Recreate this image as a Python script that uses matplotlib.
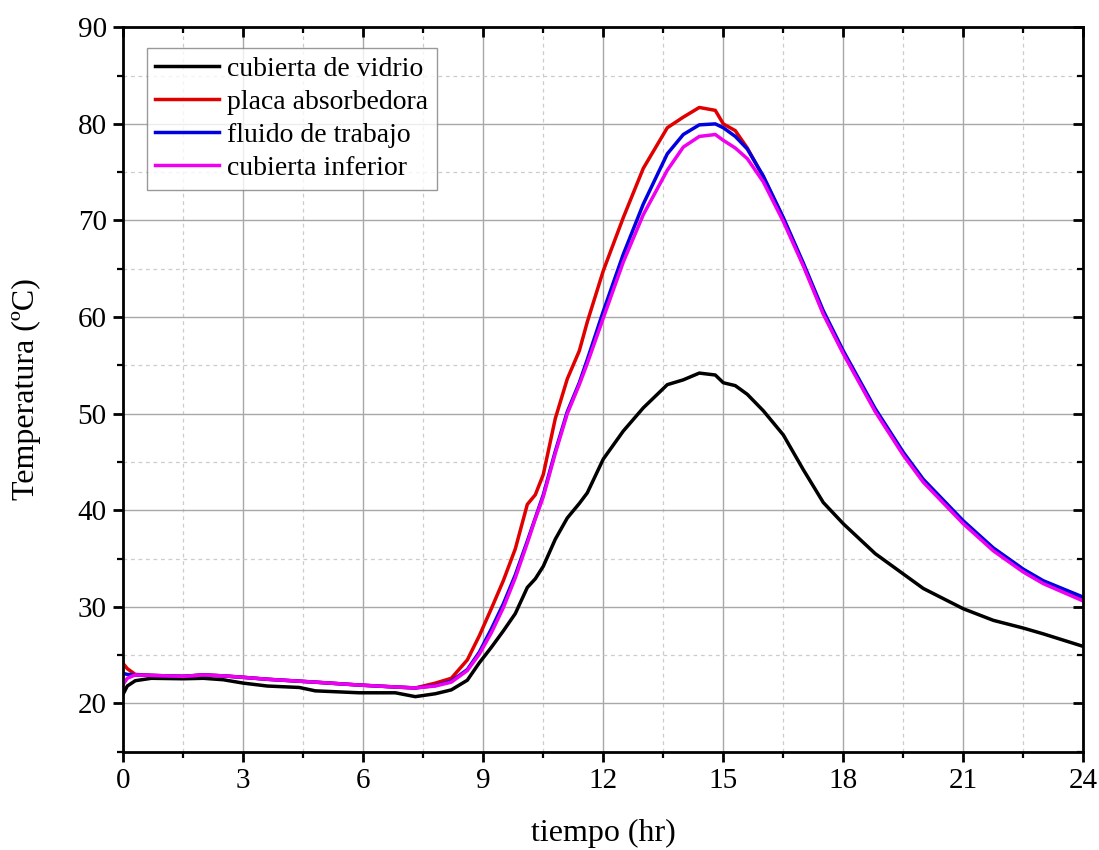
import matplotlib
matplotlib.use("Agg")
import matplotlib.pyplot as plt
from matplotlib.ticker import MultipleLocator

plt.rcParams['font.family'] = ['Liberation Serif', 'DejaVu Serif']

tiempo = [0, 0.1, 0.3, 0.7, 1.5, 2.0, 2.5, 3.0, 3.6, 4.4, 4.8, 5.9, 6.8, 7.3, 7.8,
          8.2, 8.6, 8.9, 9.2, 9.5, 9.8, 10.1, 10.3, 10.5, 10.8, 11.1, 11.4, 11.6,
          12.0, 12.5, 13.0, 13.6, 14.0, 14.4, 14.8, 15.0, 15.3, 15.6, 16.0, 16.5,
          17.0, 17.5, 18.0, 18.8, 19.5, 20.0, 21.0, 21.75, 22.5, 23.0, 24.0]

cubierta_vidrio = [21.0, 21.8, 22.35, 22.6, 22.55, 22.6, 22.45, 22.1, 21.8, 21.65,
                   21.3, 21.1, 21.1, 20.7, 21.0, 21.4, 22.4, 24.2, 25.8, 27.5, 29.3,
                   32.0, 32.9, 34.2, 37.0, 39.2, 40.7, 41.8, 45.3, 48.2, 50.6, 53.0,
                   53.5, 54.2, 54.0, 53.2, 52.9, 52.0, 50.3, 47.8, 44.2, 40.8, 38.6,
                   35.5, 33.4, 31.9, 29.8, 28.6, 27.8, 27.2, 25.9]

placa_absorbedora = [24.1, 23.6, 23.0, 22.9, 22.8, 22.95, 22.85, 22.7, 22.5, 22.3,
                     22.2, 21.9, 21.7, 21.6, 22.1, 22.6, 24.5, 27.0, 29.8, 32.7, 36.0,
                     40.6, 41.6, 43.7, 49.5, 53.6, 56.5, 59.5, 64.8, 70.3, 75.4, 79.6,
                     80.7, 81.7, 81.4, 80.0, 79.3, 77.5, 74.5, 70.2, 65.4, 60.4, 56.3,
                     50.3, 45.8, 43.0, 38.7, 35.9, 33.7, 32.5, 30.8]

fluido_trabajo = [23.1, 23.0, 22.95, 22.9, 22.8, 22.95, 22.85, 22.7, 22.5, 22.3,
                  22.2, 21.9, 21.7, 21.6, 21.85, 22.3, 23.5, 25.3, 27.7, 30.3, 33.3,
                  36.8, 39.2, 41.6, 46.1, 50.2, 53.2, 55.6, 60.6, 66.5, 71.7, 76.9,
                  78.9, 79.9, 80.0, 79.6, 78.7, 77.4, 74.6, 70.3, 65.6, 60.65, 56.5,
                  50.5, 46.0, 43.2, 38.9, 36.1, 33.9, 32.7, 31.0]

cubierta_inferior = [22.0, 22.6, 22.95, 22.9, 22.8, 22.95, 22.85, 22.7, 22.5, 22.3,
                     22.2, 21.9, 21.7, 21.6, 21.8, 22.2, 23.4, 25.1, 27.3, 29.9, 33.0,
                     36.6, 39.1, 41.4, 45.9, 50.0, 53.0, 55.2, 59.9, 65.7, 70.6, 75.2,
                     77.6, 78.7, 78.9, 78.3, 77.5, 76.4, 74.0, 69.9, 65.3, 60.3, 56.2,
                     50.2, 45.7, 42.9, 38.6, 35.8, 33.6, 32.4, 30.6]

etiquetas = ["cubierta de vidrio", "placa absorbedora", "fluido de trabajo", "cubierta inferior"]
colores = ["#000000", "#e00000", "#0000e0", "#f000f0"]

rect = [123.3 / 1099, 1 - 751.7 / 850, 960 / 1099, 724.4 / 850]
fig = plt.figure(figsize=(10.99, 8.5), dpi=100)
ax = fig.add_axes(rect)

series = [cubierta_vidrio, placa_absorbedora, fluido_trabajo, cubierta_inferior]
for s, lab, c in zip(series, etiquetas, colores):
    ax.plot(tiempo, s, color=c, lw=2.5, label=lab, solid_joinstyle='round')

ax.set_xlim(0, 24)
ax.set_ylim(15, 90)
ax.xaxis.set_major_locator(MultipleLocator(3))
ax.xaxis.set_minor_locator(MultipleLocator(1.5))
ax.set_yticks([20, 30, 40, 50, 60, 70, 80, 90])
ax.yaxis.set_minor_locator(MultipleLocator(5))

ax.grid(which='major', color='#a8a8a8', lw=1.0, ls='-')
ax.grid(which='minor', color='#cccccc', lw=0.9, ls=(0, (3, 3)))
ax.set_axisbelow(True)

for sp in ax.spines.values():
    sp.set_linewidth(2.0)

ax.tick_params(which='major', direction='out', length=7, width=2.0, labelsize=21, pad=5)
ax.tick_params(which='minor', direction='out', length=4, width=1.6)

# overlay axes for inward ticks on top and right
ov = fig.add_axes(rect, frameon=False)
ov.patch.set_visible(False)
ov.set_xlim(0, 24)
ov.set_ylim(15, 90)
ov.xaxis.set_major_locator(MultipleLocator(3))
ov.xaxis.set_minor_locator(MultipleLocator(1.5))
ov.yaxis.set_major_locator(MultipleLocator(10))
ov.yaxis.set_minor_locator(MultipleLocator(5))
ov.tick_params(which='both', direction='in', bottom=False, left=False, top=True, right=True,
               labelbottom=False, labelleft=False, labeltop=False, labelright=False)
ov.tick_params(which='major', length=7, width=2.0)
ov.tick_params(which='minor', length=4, width=1.6)

ax.set_xlabel("tiempo (hr)", fontsize=23, labelpad=18)
ax.set_ylabel("Temperatura (ºC)", fontsize=23, labelpad=26)

leg = ax.legend(loc='upper left', bbox_to_anchor=(0.0244, 0.9718), borderaxespad=0,
                fontsize=20, frameon=True, fancybox=False, edgecolor='#808080',
                handlelength=2.3, handletextpad=0.3, labelspacing=0.28, borderpad=0.3)
leg.get_frame().set_linewidth(1.0)
leg.set_zorder(5)

fig.savefig("out.png", dpi=100)
